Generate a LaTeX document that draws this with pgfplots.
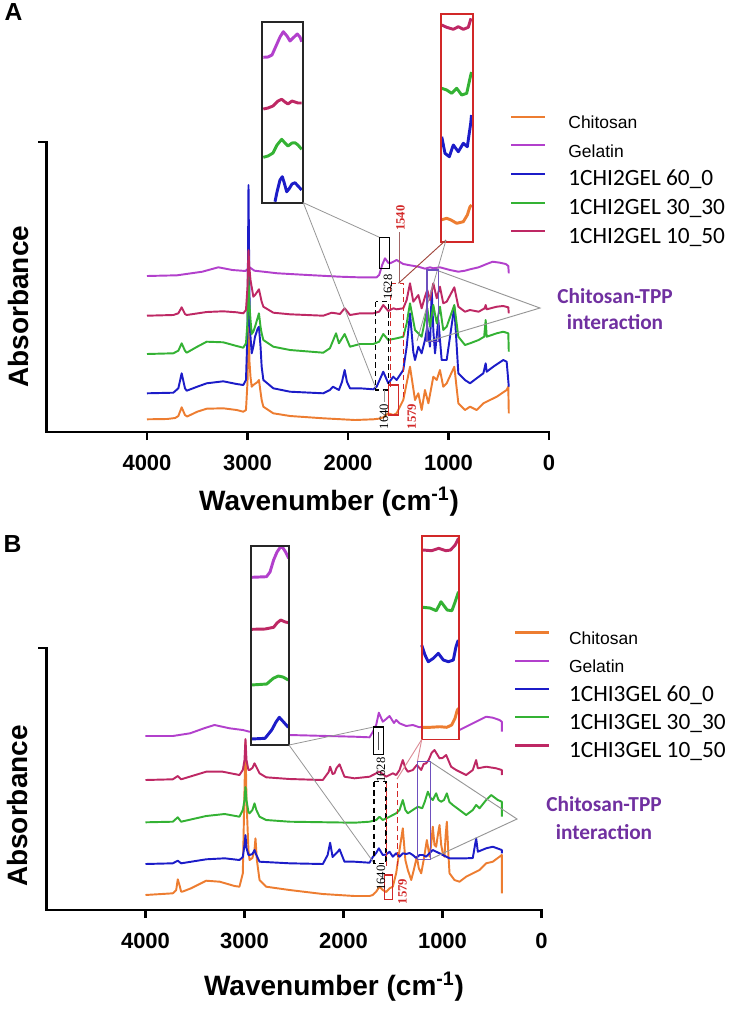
\documentclass[border=0pt]{standalone}
\usepackage{fontspec}
\setmainfont{Liberation Sans}
\newfontfamily\calibri{Carlito}
\newfontfamily\timesf{Liberation Serif}
\usepackage{pgfplots}
\pgfplotsset{compat=1.18}
\definecolor{cOr}{RGB}{237,125,49}
\definecolor{cPu}{RGB}{178,64,204}
\definecolor{cBl}{RGB}{28,28,200}
\definecolor{cGr}{RGB}{52,178,52}
\definecolor{cCr}{RGB}{190,40,100}
\definecolor{cTPP}{RGB}{112,48,160}
\definecolor{cBox}{RGB}{110,80,190}
\definecolor{cRed}{RGB}{210,40,40}
\definecolor{cGray}{RGB}{150,150,150}
\definecolor{cPink}{RGB}{220,140,150}
\definecolor{cRG}{RGB}{160,100,100}
\definecolor{cBr}{RGB}{160,70,60}
\pgfplotsset{
  ftir/.style={scale only axis, x dir=reverse, xmin=0, xmax=5000, ymin=0,
    axis x line*=bottom, axis y line*=left,
    axis line style={-, line width=2.2pt, line cap=rect},
    xtick={0,1000,2000,3000,4000}, xticklabels={0,1000,2000,3000,4000},
    tick style={line width=2.2pt, black}, major tick length=6pt, tick align=outside,
    xticklabel style={font=\fontsize{16.5}{18}\selectfont\bfseries, yshift=-7.5pt},
    yticklabels={},
    label style={font=\fontsize{21}{24}\selectfont\bfseries},
    legend cell align=left,
    legend image code/.code={\draw[line width=1.6pt,##1] (0pt,5pt) -- (25.5pt,5pt);},
    clip=false},
  tr/.style={line width=1.45pt, line join=round},
  mini/.style={line width=2.2pt, line join=round},
}
\newcommand{\lgs}{\fontsize{13.1}{15}\selectfont}
\newcommand{\lgc}{\calibri\fontsize{17.5}{20}\selectfont}
\newcommand{\numf}{\timesf\fontsize{9.5}{10}\selectfont}
\begin{document}
\begin{tikzpicture}
\path[use as bounding box] (0pt,0pt) rectangle (554.25pt,-759.75pt);
% ---------------- Panel A ----------------
\begin{axis}[ftir, at={(34.875pt,-324pt)}, anchor=south west,
  width=376.875pt, height=217.5pt, ymax=290, ytick={290},
  xlabel={Wavenumber (cm\textsuperscript{-1})},
  xlabel style={at={(axis description cs:0.5622,-0.240)}, anchor=center},
  ylabel={Absorbance},
  ylabel style={at={(axis description cs:-0.0567,0.432)}, anchor=center},
  legend style={draw=none, fill=none, at={(axis description cs:0.9224,1.1021)}, anchor=north west,
    inner sep=0pt, row sep=5.5pt, nodes={inner sep=0pt, text height=12pt, text depth=4pt},
    /tikz/every odd column/.append style={column sep=16.5pt}}]
\addplot[tr, cOr] coordinates {(4000,12.7)(3800,13)(3720,14)(3688,16)(3655,24.7)(3622,17)(3600,15.5)(3500,20.3)(3406,23.3)(3241,23.7)(3108,22)(3042,20.3)(3015,22)(3000,50)(2990,105)(2980,70)(2970,55)(2958,45.3)(2942,47)(2900,50)(2886,52)(2870,40)(2859,32)(2842,25.3)(2743,18.7)(2577,16)(2246,13.7)(1930,12)(1748,12.7)(1680,13.5)(1649,14.7)(1599,18.7)(1549,17)(1516,18.7)(1450,32)(1383,65.3)(1333,32)(1300,38.7)(1267,22)(1234,42)(1200,28.7)(1151,55.3)(1117,52)(1085,62)(1052,45.3)(1018,48.7)(942,65.3)(902,28.7)(836,22)(786,25.3)(720,22)(653,28.7)(520,35.3)(421,42)(405,45.3)(400,18.7)};
\addlegendentry{\lgs Chitosan}
\addplot[tr, cPu] coordinates {(4000,156)(3700,156.7)(3450,160.3)(3290,164.7)(3150,162)(3020,161)(2980,164.7)(2930,161.3)(2700,158.7)(2400,157)(2080,155.3)(1900,154.7)(1715,154.7)(1690,157)(1660,167)(1632,173.7)(1600,169.3)(1582,168.7)(1549,170.3)(1516,172)(1450,168)(1383,166.7)(1300,165.3)(1234,163.3)(1184,164.7)(1150,163.7)(1085,164.7)(985,162)(902,160.3)(836,161.3)(786,162.7)(700,164.7)(620,168)(560,170.3)(488,169.3)(430,168)(405,166)(400,158.7)};
\addlegendentry{\lgs Gelatin}
\addplot[tr, cBl] coordinates {(4000,38.7)(3738,39.3)(3688,43.7)(3655,58.7)(3622,43.7)(3605,41.3)(3500,45.3)(3406,48.7)(3241,50.7)(3108,48)(3042,47)(3015,52)(3000,100)(2990,247)(2982,150)(2975,102)(2958,78.7)(2942,85.3)(2925,95.3)(2900,103)(2886,105.3)(2870,85)(2859,65.3)(2842,52)(2743,43.7)(2577,40.3)(2246,38.7)(2180,42)(2150,45.3)(2090,42)(2060,50)(2033,62)(2010,50)(1980,43.7)(1880,43.7)(1748,42.7)(1715,45.3)(1649,60.3)(1599,48.7)(1549,55.3)(1516,52)(1450,62)(1416,85.3)(1383,118.7)(1350,80)(1333,72)(1300,85.3)(1267,78.7)(1234,92)(1211,105.3)(1184,85.3)(1167,142)(1150,100)(1134,78.7)(1101,112)(1068,72)(1018,72)(942,125.3)(902,58.7)(836,52)(786,48.7)(720,53.7)(653,58.7)(630,68.7)(620,60.3)(554,65.3)(455,72)(421,70.3)(400,45.3)};
\addlegendentry{\lgc 1CHI2GEL 60\_0}
\addplot[tr, cGr] coordinates {(4000,78)(3738,78.7)(3688,81.3)(3655,88.7)(3622,81.3)(3605,79.3)(3500,85.3)(3406,90.3)(3241,89.7)(3108,86)(3042,84.3)(3015,88.7)(3000,110)(2992,162)(2982,130)(2970,112)(2958,98)(2942,100.3)(2925,105.3)(2886,118.7)(2870,105)(2859,98.7)(2842,92)(2743,85.3)(2577,82)(2246,79.3)(2180,83.7)(2119,98.7)(2090,88.7)(2033,98)(1980,85.3)(1880,88)(1748,88)(1690,90.3)(1649,98)(1599,92)(1516,93.7)(1450,95.3)(1416,108.7)(1383,128.7)(1333,102)(1267,95.3)(1234,112)(1211,123.7)(1184,105.3)(1151,127)(1117,108.7)(1085,125.3)(1052,102)(1018,105.3)(942,127)(902,95.3)(836,87)(786,88.7)(700,92)(645,95.3)(630,112)(620,95.3)(520,98.7)(455,100.3)(405,98.7)(400,80.3)};
\addlegendentry{\lgc 1CHI2GEL 30\_30}
\addplot[tr, cCr] coordinates {(4000,116.3)(3738,117)(3688,118.7)(3655,124.7)(3622,118)(3605,117)(3406,120)(3241,120.7)(3108,119.7)(3042,118.7)(3015,122)(3000,145)(2990,182)(2982,165)(2970,152)(2942,135.3)(2925,137)(2886,142.7)(2859,130.3)(2842,125.3)(2743,119.3)(2577,117.7)(2246,116.3)(2162,119.3)(2120,118.7)(2080,118)(2033,123.7)(1980,117)(1880,118.7)(1748,118.7)(1690,120.3)(1649,127)(1599,121)(1549,123.7)(1516,122.7)(1450,123.7)(1416,132)(1383,148.7)(1350,130.3)(1300,137)(1267,123.7)(1234,135.3)(1211,142)(1184,132)(1151,148.7)(1117,133.7)(1085,145.3)(1052,128.7)(1018,130.3)(942,144.7)(902,125.3)(836,120.3)(786,122)(700,120.3)(640,123.7)(630,127)(620,122.7)(520,125.3)(455,126)(405,124.7)(400,118.7)};
\addlegendentry{\lgc 1CHI2GEL 10\_50}
\end{axis}
% ---------------- Panel B ----------------
\begin{axis}[ftir, at={(34.875pt,-682.5pt)}, anchor=south west,
  width=371.25pt, height=196.5pt, ymax=262, ytick={262},
  xlabel={Wavenumber (cm\textsuperscript{-1})},
  xlabel style={at={(axis description cs:0.5808,-0.294)}, anchor=center},
  ylabel={Absorbance},
  ylabel style={at={(axis description cs:-0.0576,0.397)}, anchor=center},
  legend style={draw=none, fill=none, at={(axis description cs:0.9444,1.0756)}, anchor=north west,
    inner sep=0pt, row sep=5.2pt, nodes={inner sep=0pt, text height=12pt, text depth=4pt},
    /tikz/every odd column/.append style={column sep=14pt}}]
\addplot[tr, cOr] coordinates {(4000,15)(3724,16.7)(3690,20)(3674,30.7)(3657,25)(3640,18.3)(3623,18.5)(3540,21.7)(3387,29.3)(3250,28.3)(3100,24)(3051,23.3)(3017,36.7)(3000,120)(2990,168)(2980,110)(2960,60)(2949,50)(2920,52)(2899,60)(2889,71.7)(2875,50)(2848,30)(2781,23.3)(2545,20)(2209,16)(1889,14)(1737,14)(1704,15)(1670,18.3)(1636,23.3)(1603,20)(1569,18)(1535,21.7)(1502,23.3)(1468,36.7)(1434,60)(1401,81.7)(1375,50)(1350,40)(1316,30)(1290,40)(1259,53.3)(1240,42)(1215,36.7)(1190,50)(1158,70)(1131,53.3)(1115,65)(1098,83.3)(1081,65)(1064,63.3)(1047,75)(1030,85)(1013,65)(997,56.7)(980,53.3)(968,75)(956,88.3)(940,55)(929,36.7)(879,30)(828,28.3)(761,33.3)(694,36.7)(626,40)(559,46.7)(492,48.3)(424,53.3)(401,55)(400,16.7)};
\addlegendentry{\lgs Chitosan}
\addplot[tr, cPu] coordinates {(4000,174)(3724,174)(3550,176.7)(3400,182)(3303,185)(3150,181.7)(3017,180)(2949,178.3)(2545,175)(1889,173.3)(1737,172.7)(1704,178)(1670,185)(1643,197.3)(1603,188.3)(1569,191)(1535,194)(1490,187)(1468,190)(1434,186.7)(1367,184)(1300,185)(1232,182.7)(1199,183.5)(1100,184)(1000,183)(900,182)(828,180)(761,183.3)(626,190)(559,193.3)(492,192.3)(424,190)(401,188.3)(400,178.3)};
\addlegendentry{\lgs Gelatin}
\addplot[tr, cBl] coordinates {(4000,46)(3724,46.7)(3674,49.3)(3640,46.7)(3387,50.7)(3200,51.7)(3051,50)(3017,53)(3000,65)(2990,75)(2980,62)(2960,55)(2949,55)(2920,56)(2899,60)(2880,55)(2848,48.3)(2545,46.7)(2209,46)(2160,55)(2135,67.3)(2110,53)(2091,55)(2060,58)(2040,60.7)(1990,48.3)(1889,48.3)(1737,47.3)(1704,53)(1670,57)(1643,61.7)(1603,55)(1569,55.5)(1535,58.3)(1502,53.3)(1468,56.7)(1434,53.3)(1401,56.7)(1367,56)(1333,57)(1300,55)(1266,52)(1232,55)(1199,55)(1165,53.3)(1098,60)(1030,56.7)(929,51.7)(862,51.7)(761,51.7)(694,52)(660,71.7)(643,58.3)(559,61.7)(492,63.3)(401,60)(400,56.7)};
\addlegendentry{\lgc 1CHI3GEL 60\_0}
\addplot[tr, cGr] coordinates {(4000,87.7)(3724,88.3)(3674,92.7)(3640,88.3)(3387,94)(3200,96)(3051,93.3)(3017,100)(3000,110)(2990,123)(2980,110)(2960,98)(2949,96.7)(2920,100)(2899,106.7)(2880,100)(2848,93.3)(2781,90)(2545,88.3)(1889,87.3)(1737,88.3)(1670,90)(1636,93.3)(1603,90)(1535,93.3)(1468,96.7)(1434,100)(1401,110)(1375,100)(1350,96.7)(1300,100)(1249,103.3)(1205,101.7)(1180,108)(1148,118.3)(1120,112)(1098,110)(1064,116.7)(1040,110)(1013,108.3)(985,110)(956,116.7)(930,108)(896,105)(828,100)(761,95)(694,100)(660,105)(626,101.7)(559,110)(508,115)(441,110)(401,108.3)(400,93.3)};
\addlegendentry{\lgc 1CHI3GEL 30\_30}
\addplot[tr, cCr] coordinates {(4000,130)(3724,130.7)(3674,134)(3640,130.7)(3387,138.3)(3220,138.3)(3051,135)(3017,140)(3000,150)(2990,171)(2980,150)(2960,140)(2949,140)(2920,142)(2899,146.7)(2880,143)(2848,136.7)(2781,132.7)(2545,131)(2209,130)(2150,138)(2135,143.3)(2110,136)(2091,136.7)(2070,142)(2040,145.7)(1990,133.3)(1889,131.7)(1737,133.3)(1670,136.7)(1636,138.3)(1569,133.3)(1502,136.7)(1468,135)(1434,140)(1401,150)(1375,142)(1350,138.3)(1300,140)(1259,145)(1215,140)(1190,146)(1165,146.7)(1140,150)(1110,157)(1081,160)(1050,155)(1030,151.7)(1000,152)(963,155)(913,143.3)(862,140)(761,135)(694,140)(660,150)(643,141.7)(559,143.3)(458,141.7)(401,140)(400,135)};
\addlegendentry{\lgc 1CHI3GEL 10\_50}
\end{axis}
% ---------------- Overlay (pixel coordinates) ----------------
\begin{axis}[at={(0pt,0pt)}, anchor=north west, scale only axis,
  width=554.25pt, height=759.75pt, xmin=0, xmax=739, ymin=0, ymax=1013,
  y dir=reverse, hide axis, clip=false]
\fill[white] (421.7,535.7) rectangle (459,739.5);
\fill[white] (251,545.7) rectangle (289,745);
% inset A black
\addplot[mini, cPu] coordinates {(263.3,57.3)(268,57)(272,55)(276,46)(280,37)(283.3,31.7)(287,36)(290,41)(293,38)(297.3,34)(300,37)(301.7,41.7)};
\addplot[mini, cCr] coordinates {(263.3,109)(268,108)(273,106)(278,101)(281.7,99.3)(285,102)(288,104)(292,101)(295,102)(298,103)(301.7,103)};
\addplot[mini, cGr] coordinates {(263.3,157.3)(268,156)(273,153)(277,145)(281.7,139.3)(285,143)(288,146)(292,143)(295,142.7)(298,145)(301.7,149.3)};
\addplot[mini, cBl] coordinates {(275,201.7)(277,192)(280,180)(282.3,176.7)(284,182)(286.7,191.7)(289,189)(292,184)(295,182.7)(298,186)(301.7,190)};
% inset A red
\addplot[mini, cCr] coordinates {(441.7,25)(446.7,27.3)(453.3,29.3)(458.3,26.7)(463.3,29.3)(468.3,27.3)(471,18.3)};
\addplot[mini, cGr] coordinates {(441.7,88.3)(446.7,90)(451.7,93.3)(456.7,88.3)(461.7,95)(466.7,93.3)(470,78.3)(471.5,72)};
\addplot[mini, cBl] coordinates {(441.7,136.7)(445,153.3)(449.3,156.7)(453.3,145)(458.3,151.7)(463.3,143.3)(467.3,146.7)(470.7,123.3)(471.5,115)};
\addplot[mini, cOr] coordinates {(440.7,220)(446.7,218.3)(451,220)(456.7,223.3)(463.3,221.7)(467.3,215)(470,206.7)(471.7,205)};
% inset B black
\addplot[mini, cPu] coordinates {(251.4,577.3)(266.5,576.7)(270,572)(273.6,560)(277,552)(280.7,546.7)(283,548)(285.4,551.7)(288.7,558.3)};
\addplot[mini, cCr] coordinates {(251.4,629.3)(265,629)(273.6,627.3)(277,623)(280.7,620)(285.4,622)(288.7,622.7)};
\addplot[mini, cGr] coordinates {(251,685)(266.7,684)(273.3,678.3)(278.3,676)(283,677)(288.3,680)};
\addplot[mini, cBl] coordinates {(251,739)(265,738.3)(271.7,730)(276,722)(279.3,717.3)(283.3,721.7)(288.3,727.3)};
% inset B red
\addplot[mini, cCr] coordinates {(423,550)(431.6,550.7)(438.7,548.3)(445.8,550.7)(450.5,550)(455.2,545)(458.5,538.3)};
\addplot[mini, cGr] coordinates {(423,607.3)(430,608)(436.3,610.7)(441,601.7)(447.2,610)(451.9,610.7)(455.2,601.7)(458.5,591.7)};
\addplot[mini, cBl] coordinates {(421.7,645)(425,655)(428.3,661.7)(433.3,658.3)(438.3,653.3)(443.3,660)(448.3,661.7)(453.3,660)(456,646.7)(458.3,640)};
\addplot[mini, cOr] coordinates {(421.7,727.3)(430,727.3)(440,726.7)(446.7,727.3)(451.7,725)(455,718.3)(457.3,710)(458.7,708.3)};
% ----- annotations A -----
\draw[line width=1.4pt, black!85] (262.3,21.7) rectangle (303.3,202.7);
\draw[line width=1.4pt, cRed] (440.7,14) rectangle (472.7,242);
\draw[cGray, line width=0.6pt] (303.3,202.7) -- (379.5,237.3);
\draw[cGray, line width=0.6pt] (303.3,202.7) -- (376.5,390);
\draw[line width=1pt, black] (379.5,237.3) rectangle (389.3,268.3);
\draw[black, line width=1.1pt, dash pattern=on 4pt off 2.5pt] (375.7,301.7) rectangle (388.3,390);
\draw[cRed, line width=1.1pt, dash pattern=on 4pt off 2.5pt] (390.7,387) -- (390.7,283.3) -- (403.3,283.3) -- (403.3,397);
\draw[cRed, line width=1.1pt] (388.3,385) rectangle (398.3,415);
\draw[cRG, line width=0.6pt] (399,232) -- (399,283.3);
\draw[cBr, line width=0.7pt] (446,240) -- (398.5,283.3);
\draw[cGray, line width=0.6pt] (446,240) -- (417,341);
\draw[cGray, line width=0.6pt] (384,390) -- (384,402);
\draw[cBox, line width=1pt] (427,270) rectangle (438.8,341.7);
\draw[cGray, line width=0.7pt] (438.8,271) -- (540,308) -- (427,341.7);
\node[rotate=90, text=black, inner sep=0pt] at (388,287) {\numf 1628};
\node[rotate=90, text=cRed, inner sep=0pt] at (400.5,218) {\numf\bfseries 1540};
\node[rotate=90, text=black, inner sep=0pt] at (384,416.5) {\numf 1640};
\node[rotate=90, text=cRed, inner sep=0pt] at (411.7,416.5) {\numf\bfseries 1579};
\node[text=cTPP, inner sep=0pt, align=center, font=\calibri\bfseries\fontsize{16}{19.5}\selectfont] at (615,309.5) {Chitosan-TPP\\interaction};
\node[inner sep=0pt] at (13.5,12.5) {\fontsize{18.5}{20}\selectfont\bfseries A};
% ----- annotations B -----
\draw[line width=1.4pt, black!85] (251,545.7) rectangle (289,745);
\draw[line width=1.4pt, cRed] (421.7,535.7) rectangle (459,739.5);
\draw[cGray, line width=0.6pt] (289,745) -- (373.5,727);
\draw[cGray, line width=0.6pt] (289,745) -- (374,863);
\draw[line width=1pt, black, fill=white] (373.5,727) rectangle (383.5,754.5);
\draw[black!70, line width=0.6pt] (378.5,732) -- (378.5,750);
\draw[black, line width=1.1pt, dash pattern=on 4pt off 2.5pt] (374,781.7) rectangle (386,863.3);
\draw[cRed, line width=1.1pt, dash pattern=on 4pt off 2.5pt] (386.7,866) -- (386.7,780);
\draw[cRed, line width=1.1pt, dash pattern=on 4pt off 2.5pt] (397.3,866) -- (397.3,778.3);
\draw[cRed, line width=1.1pt] (384.3,875) rectangle (392.3,899.3);
\draw[cPink, line width=0.7pt] (421.7,739.5) -- (397,779);
\draw[cPink, line width=0.7pt] (421.7,739.5) -- (417.3,762);
\draw[cBox, line width=1pt] (417.3,761.7) rectangle (430.7,859.3);
\draw[cGray, line width=0.7pt] (430.7,762) -- (517,819) -- (430.7,859);
\node[rotate=90, text=black, inner sep=0pt] at (381,770) {\numf 1628};
\node[rotate=90, text=black, inner sep=0pt] at (381,878) {\numf 1640};
\node[rotate=90, text=cRed, inner sep=0pt] at (402.5,891.5) {\numf\bfseries 1579};
\node[text=cTPP, inner sep=0pt, align=center, font=\calibri\bfseries\fontsize{16}{21}\selectfont] at (604,818) {Chitosan-TPP\\interaction};
\node[inner sep=0pt] at (12.5,544) {\fontsize{18.5}{20}\selectfont\bfseries B};
\end{axis}
\end{tikzpicture}
\end{document}
